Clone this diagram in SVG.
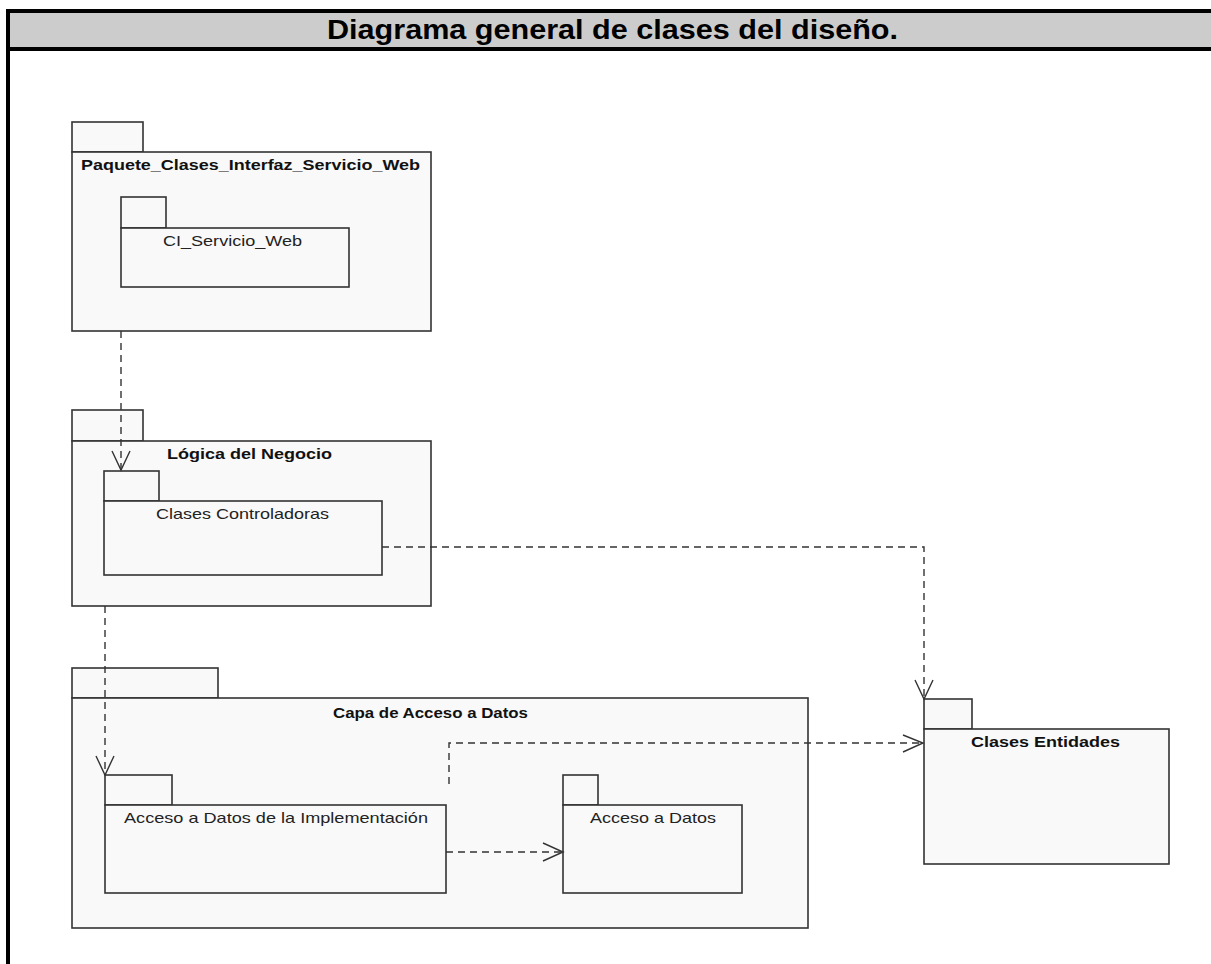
<svg xmlns="http://www.w3.org/2000/svg" width="1211" height="964" viewBox="0 0 1211 964">
  <style>
    .frame { fill: none; stroke: #000; stroke-width: 4; }
    .titlebar { fill: #cccccc; stroke: #000; stroke-width: 4; }
    .title { font-family: "Liberation Sans", Arial, sans-serif; font-weight: bold; font-size: 27px; fill: #000; }
    .pkg { fill: #f9f9f9; stroke: #333; stroke-width: 1.6; }
    .lbl-b { font-family: "Liberation Sans", Arial, sans-serif; font-weight: bold; font-size: 15px; fill: #111; }
    .lbl { font-family: "Liberation Sans", Arial, sans-serif; font-size: 15px; fill: #222; }
    .dep { fill: none; stroke: #333; stroke-width: 1.4; stroke-dasharray: 7 5; }
    .head { fill: none; stroke: #333; stroke-width: 1.4; }
  </style>

  <rect x="0" y="0" width="1211" height="964" fill="#fff"/>

  <!-- outer frame with title bar -->
  <g id="frame">
    <rect class="titlebar" x="8" y="11" width="1210" height="38"/>
    <line class="frame" x1="8" y1="11" x2="8" y2="966"/>
    <text class="title" x="327" y="39" textLength="571" lengthAdjust="spacingAndGlyphs">Diagrama general de clases del diseño.</text>
  </g>

  <!-- Paquete_Clases_Interfaz_Servicio_Web -->
  <g id="pkg-interfaz">
    <rect class="pkg" x="72" y="122" width="71" height="30"/>
    <rect class="pkg" x="72" y="152" width="359" height="179"/>
    <text class="lbl-b" x="81" y="170" textLength="339" lengthAdjust="spacingAndGlyphs">Paquete_Clases_Interfaz_Servicio_Web</text>
  </g>
  <g id="pkg-ci-servicio-web">
    <rect class="pkg" x="121" y="197" width="45" height="31"/>
    <rect class="pkg" x="121" y="228" width="228" height="59"/>
    <text class="lbl" x="163" y="246" textLength="139" lengthAdjust="spacingAndGlyphs">CI_Servicio_Web</text>
  </g>

  <!-- Lógica del Negocio -->
  <g id="pkg-logica">
    <rect class="pkg" x="72" y="410" width="71" height="31"/>
    <rect class="pkg" x="72" y="441" width="359" height="165"/>
    <text class="lbl-b" x="167" y="459" textLength="165" lengthAdjust="spacingAndGlyphs">Lógica del Negocio</text>
  </g>
  <g id="pkg-controladoras">
    <rect class="pkg" x="104" y="471" width="55" height="30"/>
    <rect class="pkg" x="104" y="501" width="278" height="74"/>
    <text class="lbl" x="156" y="519" textLength="173" lengthAdjust="spacingAndGlyphs">Clases Controladoras</text>
  </g>

  <!-- Capa de Acceso a Datos -->
  <g id="pkg-capa-datos">
    <rect class="pkg" x="72" y="668" width="146" height="30"/>
    <rect class="pkg" x="72" y="698" width="736" height="230"/>
    <text class="lbl-b" x="333" y="718" textLength="195" lengthAdjust="spacingAndGlyphs">Capa de Acceso a Datos</text>
  </g>
  <g id="pkg-acceso-impl">
    <rect class="pkg" x="105" y="775" width="67" height="30"/>
    <rect class="pkg" x="105" y="805" width="341" height="88"/>
    <text class="lbl" x="124" y="823" textLength="304" lengthAdjust="spacingAndGlyphs">Acceso a Datos de la Implementación</text>
  </g>
  <g id="pkg-acceso-datos">
    <rect class="pkg" x="563" y="775" width="35" height="30"/>
    <rect class="pkg" x="563" y="805" width="179" height="88"/>
    <text class="lbl" x="590" y="823" textLength="126" lengthAdjust="spacingAndGlyphs">Acceso a Datos</text>
  </g>

  <!-- Clases Entidades -->
  <g id="pkg-entidades">
    <rect class="pkg" x="924" y="699" width="48" height="30"/>
    <rect class="pkg" x="924" y="729" width="245" height="135"/>
    <text class="lbl-b" x="971" y="747" textLength="149" lengthAdjust="spacingAndGlyphs">Clases Entidades</text>
  </g>

  <!-- dependencies -->
  <g id="connectors">
    <path class="dep" d="M121 331 V470"/>
    <path class="head" d="M112 451 L121 470 L130 451"/>

    <path class="dep" d="M105 606 V775"/>
    <path class="head" d="M96 756 L105 775 L114 756"/>

    <path class="dep" d="M382 547 H924 V699"/>
    <path class="head" d="M915 680 L924 699 L933 680"/>

    <path class="dep" d="M449 784 V743 H923"/>
    <path class="head" d="M903 735 L923 743 L903 752"/>

    <path class="dep" d="M446 852 H563"/>
    <path class="head" d="M543 843 L563 852 L543 861"/>
  </g>
</svg>
